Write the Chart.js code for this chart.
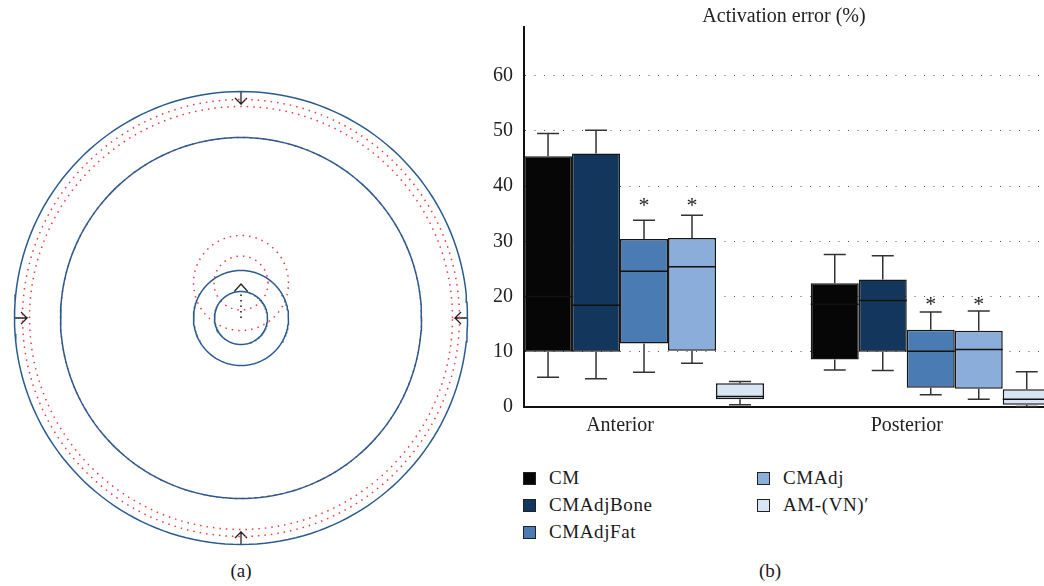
<!DOCTYPE html>
<html>
<head>
<meta charset="utf-8">
<script src="https://cdn.jsdelivr.net/npm/chart.js@4"></script>
<style>
  body { margin: 0; background: #fff; width: 1044px; height: 586px; position: relative; overflow: hidden; font-family: 'Liberation Serif', serif; color: #1a1a1a; }
  #ringChart { position: absolute; left: 0; top: 0; }
  #boxChart { position: absolute; left: 480px; top: 0; }
  .cap { position: absolute; top: 560px; font-size: 19px; transform: translateX(-50%); }
  .leg { position: absolute; font-size: 19px; letter-spacing: 0.6px; line-height: 22px; display: flex; align-items: center; white-space: nowrap; }
  .leg .sw { width: 11px; height: 11px; border: 1px solid #222; margin-right: 13px; }
</style>
</head>
<body>
<canvas id="ringChart" width="482" height="560"></canvas>
<canvas id="boxChart" width="564" height="437"></canvas>
<div class="cap" style="left:241px">(a)</div>
<div class="cap" style="left:770px">(b)</div>
<div id="legend"></div>
<script>
// ---- panel (b) data ----
const groups = ['Anterior', 'Posterior'];
const methods = ['CM', 'CMAdjBone', 'CMAdjFat', 'CMAdj', 'AM-(VN)\u2032'];
const colors = ['#060606', '#12365c', '#4a7bb3', '#8badd9', '#d7e5f4'];
// one row per method: [Anterior, Posterior]
const whiskerLow  = [[5.4, 6.7], [5.1, 6.6], [6.3, 2.2], [7.9, 1.4], [0.4, 0.1]];
const q1          = [[10.0, 8.6], [10.0, 10.0], [11.5, 3.5], [10.2, 3.3], [1.4, 0.4]];
const median      = [[20.0, 18.6], [18.4, 19.3], [24.6, 10.1], [25.4, 10.4], [1.9, 1.4]];
const q3          = [[45.4, 22.4], [45.9, 23.1], [30.4, 14.0], [30.6, 13.8], [4.3, 3.2]];
const whiskerHigh = [[49.5, 27.6], [50.1, 27.4], [33.8, 17.2], [34.7, 17.4], [4.6, 6.4]];
const starred     = [[false, false], [false, false], [true, true], [true, true], [false, false]];
const starLevel = [37.2, 19.3];

// ---- panel (a) data ----
const blueRings = [226.5, 180.5, 47.5, 26.5];
const redRings = [218.5, 211.5, 180.5];
const shiftedRedRings = [47.5, 27];
const shiftUp = 35;
const arrowDirs = [[0, 1], [0, -1], [-1, 0], [1, 0]];

const serif = "'Liberation Serif', serif";

function ring(r, cx, cy) {
    const pts = [];
    for (let a = 0; a <= 360; a += 2) {
        const t = a * Math.PI / 180;
        pts.push({ x: cx + r * Math.cos(t), y: cy + r * Math.sin(t) });
    }
    return pts;
}

const ringSets = [];
blueRings.forEach(r => ringSets.push({
    data: ring(r, 0, 0), borderColor: '#2b5b8e', borderWidth: 1.5
}));
redRings.forEach(r => ringSets.push({
    data: ring(r, 0, 0), borderColor: '#f03a3a', borderWidth: 1.5, borderDash: [1.5, 5]
}));
shiftedRedRings.forEach(r => ringSets.push({
    data: ring(r, 0, shiftUp), borderColor: '#f03a3a', borderWidth: 1.5, borderDash: [1.5, 5]
}));
// arrows pointing inward at the outer ring
const R = blueRings[0];
arrowDirs.forEach(([ux, uy]) => {
    const tip = { x: (R - 12.5) * ux, y: (R - 12.5) * uy };
    const back = { x: tip.x + 6 * ux, y: tip.y + 6 * uy };
    ringSets.push({
        data: [
            { x: R * ux, y: R * uy }, tip,
            { x: back.x - 6 * uy, y: back.y + 6 * ux }, tip,
            { x: back.x + 6 * uy, y: back.y - 6 * ux }
        ],
        borderColor: '#222', borderWidth: 1.3
    });
});
// centre marker
ringSets.push({
    data: [{ x: 0, y: 0 }, { x: 0, y: 26.5 }],
    borderColor: '#111', borderWidth: 1.5, borderDash: [1.5, 4]
});
ringSets.push({
    data: [{ x: -6.7, y: 26.5 }, { x: 0, y: 34 }, { x: 6.7, y: 26.5 }],
    borderColor: '#222', borderWidth: 1.3
});

new Chart(document.getElementById('ringChart'), {
    type: 'scatter',
    data: { datasets: ringSets.map(d => Object.assign({ showLine: true, pointRadius: 0, tension: 0, fill: false }, d)) },
    options: {
        responsive: false,
        animation: false,
        events: [],
        layout: { padding: 0 },
        plugins: { legend: { display: false }, tooltip: { enabled: false } },
        scales: {
            x: { type: 'linear', display: false, min: -241, max: 241 },
            y: { type: 'linear', display: false, min: -242, max: 318 }
        }
    }
});

// whiskers, medians and stars on top of the boxes
const boxDetails = {
    id: 'boxDetails',
    afterDatasetsDraw(chart) {
        const ctx = chart.ctx;
        const ys = chart.scales.y;
        ctx.save();
        chart.data.datasets.forEach((ds, m) => {
            chart.getDatasetMeta(m).data.forEach((bar, g) => {
                const left = bar.x - bar.width / 2;
                const right = bar.x + bar.width / 2;
                const ym = ys.getPixelForValue(median[m][g]);
                ctx.strokeStyle = '#111';
                ctx.lineWidth = 1.5;
                ctx.beginPath();
                ctx.moveTo(left, ym);
                ctx.lineTo(right, ym);
                ctx.stroke();

                ctx.strokeStyle = '#333';
                [[q3, whiskerHigh], [q1, whiskerLow]].forEach(([from, to]) => {
                    const y0 = ys.getPixelForValue(from[m][g]);
                    const y1 = ys.getPixelForValue(to[m][g]);
                    ctx.beginPath();
                    ctx.moveTo(bar.x, y0);
                    ctx.lineTo(bar.x, y1);
                    ctx.moveTo(bar.x - 11, y1);
                    ctx.lineTo(bar.x + 11, y1);
                    ctx.stroke();
                });

                if (starred[m][g]) {
                    ctx.fillStyle = '#222';
                    ctx.font = '22px ' + serif;
                    ctx.textAlign = 'center';
                    ctx.textBaseline = 'middle';
                    ctx.fillText('*', bar.x, ys.getPixelForValue(starLevel[g]) + 5);
                }
            });
        });
        ctx.restore();
    }
};

new Chart(document.getElementById('boxChart'), {
    type: 'bar',
    data: {
        datasets: methods.map((name, m) => ({
            label: name,
            data: groups.map((_, g) => ({ x: g, y: [q1[m][g], q3[m][g]] })),
            backgroundColor: colors[m],
            borderColor: '#161616',
            borderWidth: 1.5,
            borderSkipped: false
        }))
    },
    options: {
        responsive: false,
        animation: false,
        events: [],
        categoryPercentage: 0.837,
        barPercentage: 1,
        layout: { padding: 0 },
        plugins: {
            legend: { display: false },
            tooltip: { enabled: false },
            title: {
                display: true,
                fullSize: false,
                text: 'Activation error (%)',
                color: '#222',
                font: { family: serif, size: 20, weight: 'normal', lineHeight: 1 },
                padding: { top: 7, bottom: 0 }
            }
        },
        scales: {
            x: {
                type: 'linear',
                offset: false,
                min: -0.4186,
                max: 1.395,
                afterBuildTicks: scale => { scale.ticks = groups.map((_, i) => ({ value: i })); },
                afterFit: scale => { scale.height = 30; },
                ticks: {
                    callback: v => groups[v],
                    labelOffset: -24,
                    padding: 7,
                    color: '#222',
                    font: { family: serif, size: 20 }
                },
                grid: { display: false, drawTicks: false },
                border: { display: true, color: '#111', width: 2 }
            },
            y: {
                min: 0,
                max: 68.8,
                afterFit: scale => { scale.width = 44; },
                ticks: {
                    stepSize: 10,
                    includeBounds: false,
                    padding: 11,
                    color: '#222',
                    font: { family: serif, size: 20 }
                },
                grid: { color: '#555', lineWidth: 1, drawTicks: false },
                border: { display: true, color: '#111', width: 2, dash: [1, 8.5] }
            }
        }
    },
    plugins: [boxDetails]
});

// legend in two columns
const legend = document.getElementById('legend');
methods.forEach((name, m) => {
    const col = m < 3 ? 0 : 1;
    const row = m < 3 ? m : m - 3;
    const item = document.createElement('div');
    item.className = 'leg';
    item.style.left = (col ? 757 : 523) + 'px';
    item.style.top = (467 + row * 27) + 'px';
    const sw = document.createElement('span');
    sw.className = 'sw';
    sw.style.background = colors[m];
    item.appendChild(sw);
    item.appendChild(document.createTextNode(name));
    legend.appendChild(item);
});
</script>
</body>
</html>
